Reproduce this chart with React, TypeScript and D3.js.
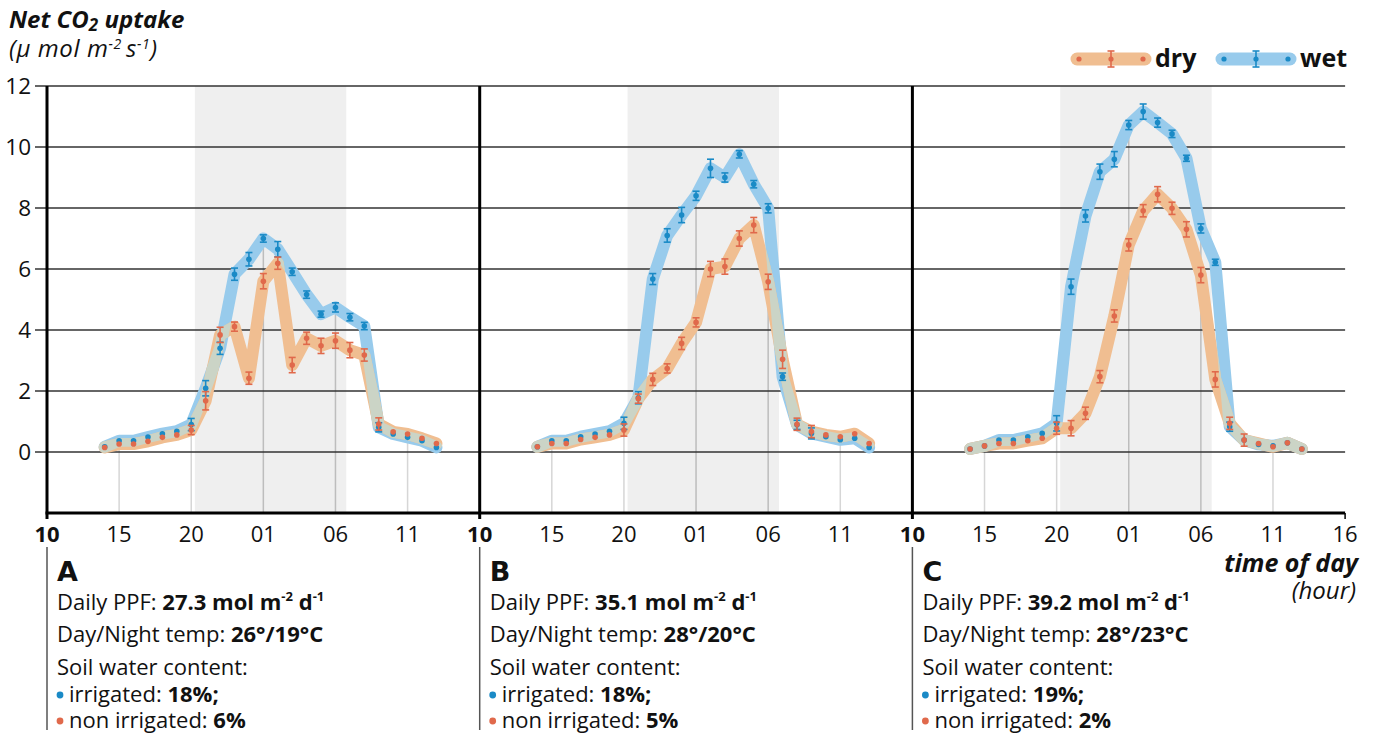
import * as d3 from "d3";

// hours after midnight of day 1 (14 = 14:00, 37 = 13:00 next day)
const hours = [14,15,16,17,18,19,20,21,22,23,24,25,26,27,28,29,30,31,32,33,34,35,36,37];

const wetA = [0.17,0.37,0.37,0.49,0.6,0.68,0.9,2.09,3.4,5.83,6.32,7.0,6.65,5.91,5.16,4.52,4.74,4.42,4.13,0.81,0.59,0.48,0.37,0.15];
const dryA = [0.15,0.26,0.26,0.35,0.48,0.56,0.72,1.68,3.84,4.11,2.42,5.6,6.19,2.85,3.73,3.48,3.65,3.34,3.18,0.92,0.66,0.59,0.45,0.28];
const wetB = [0.17,0.37,0.37,0.5,0.59,0.68,0.94,1.78,5.67,7.1,7.77,8.4,9.3,9.0,9.76,8.78,7.99,2.47,0.89,0.61,0.5,0.4,0.45,0.15];
const dryB = [0.17,0.28,0.28,0.41,0.48,0.56,0.72,1.75,2.38,2.74,3.56,4.25,6.0,6.08,7.0,7.44,5.58,3.04,0.91,0.67,0.56,0.5,0.6,0.28];
const wetC = [0.1,0.2,0.39,0.39,0.5,0.61,0.94,5.42,7.74,9.19,9.6,10.72,11.16,10.8,10.43,9.63,7.33,6.22,0.83,0.39,0.25,0.2,0.3,0.1];
const dryC = [0.1,0.2,0.28,0.28,0.37,0.45,0.78,0.78,1.27,2.47,4.46,6.79,7.91,8.45,7.99,7.3,5.8,2.38,0.94,0.39,0.28,0.17,0.3,0.1];

const errWetA = [0,0,0,0,0,0,0.2,0.25,0.2,0.2,0.22,0.12,0.25,0.12,0.12,0.1,0.15,0.12,0.12,0.15,0,0,0,0];
const errDryA = [0,0,0,0,0,0,0.15,0.3,0.25,0.15,0.2,0.25,0.2,0.25,0.2,0.25,0.25,0.25,0.2,0.2,0,0,0,0];
const errWetB = [0,0,0,0,0,0,0.2,0.2,0.18,0.22,0.25,0.15,0.3,0.15,0.12,0.12,0.15,0.12,0.15,0.18,0,0,0,0];
const errDryB = [0,0,0,0,0,0,0.2,0.15,0.2,0.15,0.2,0.15,0.25,0.25,0.25,0.25,0.25,0.3,0.2,0.2,0,0,0,0];
const errWetC = [0,0,0,0,0,0,0.25,0.25,0.2,0.25,0.25,0.15,0.25,0.15,0.12,0.1,0.15,0.1,0.15,0,0,0,0,0];
const errDryC = [0,0,0,0,0,0,0.2,0.25,0.2,0.2,0.2,0.2,0.2,0.25,0.2,0.25,0.25,0.25,0.2,0.2,0,0,0,0];

const xTicks = [10,15,20,25,30,35,40];
const xTickLabels = ["10","15","20","01","06","11","16"];
const yTicks = [0,2,4,6,8,10,12];
const night = [20.25, 30.75];

const letters = ["A","B","C"];
const ppf = ["27.3","35.1","39.2"];
const temps = ["26°/19°C","28°/20°C","28°/23°C"];
const irrigated = ["18%;","18%;","19%;"];
const nonIrrigated = ["6%","5%","2%"];

const panels = [
  { wet: wetA, dry: dryA, ew: errWetA, ed: errDryA },
  { wet: wetB, dry: dryB, ew: errWetB, ed: errDryB },
  { wet: wetC, dry: dryC, ew: errWetC, ed: errDryC },
];

const W = 1376, H = 735;
const left = 47, panelW = 432.7, top = 86, bottom = 513;
const BAND_WET = "#98CBEC", BAND_DRY = "#F0BE91", BAND_MIX = "#CBD4C6";
const DOT_WET = "#1A8AC6", DOT_DRY = "#E0694B";
const FONT = "'Open Sans', 'Noto Sans', sans-serif";
const INFO_SIZE = 22;

const y = d3.scaleLinear().domain([-2, 12]).range([bottom, top]);

function Panel({ i }: { i: number }) {
  const p = panels[i];
  const x0 = left + i * panelW;
  const x = d3.scaleLinear().domain([10, 40]).range([x0, x0 + panelW]);
  const mid = `mix${i}`;
  const line = d3.line<number>().x((_, k) => x(hours[k])).y(v => y(v));
  return (
    <g>
      <defs>
        <mask id={mid} maskUnits="userSpaceOnUse" x={0} y={0} width={W} height={H}>
          <path d={line(p.dry) || ""} fill="none" stroke="white" strokeWidth={12} strokeLinecap="round" strokeLinejoin="round" />
        </mask>
      </defs>
      <rect x={x(night[0])} y={top} width={x(night[1]) - x(night[0])} height={bottom - top} fill="#EFEFEF" />
      {/* drop lines at tick hours */}
      {xTicks.slice(1, 6).map(t => {
        const k = hours.indexOf(t);
        const v = Math.max(p.wet[k], p.dry[k]);
        const shaded = t > night[0] && t < night[1];
        return <line key={t} x1={x(t)} x2={x(t)} y1={bottom} y2={y(v)} stroke={shaded ? "#BDBDBD" : "#D6D6D6"} strokeWidth={1.5} />;
      })}
      {xTicks.map((t, k) => {
        if (k === 6 && i < 2) return null;
        return (
          <text key={t} x={x(t)} y={542} textAnchor="middle" fontSize={22} fontWeight={k === 0 ? 700 : 400} fontFamily={FONT} fill="#111">
            {xTickLabels[k]}
          </text>
        );
      })}
    </g>
  );
}

function Bands({ i }: { i: number }) {
  const p = panels[i];
  const x0 = left + i * panelW;
  const x = d3.scaleLinear().domain([10, 40]).range([x0, x0 + panelW]);
  const line = d3.line<number>().x((_, k) => x(hours[k])).y(v => y(v));
  const common = { fill: "none", strokeWidth: 12, strokeLinecap: "round" as const, strokeLinejoin: "round" as const };
  const errBars = (vals: number[], errs: number[], color: string) =>
    vals.map((v, k) => {
      const cx = x(hours[k]);
      const e = errs[k];
      return (
        <g key={k}>
          {e > 0 && (
            <g stroke={color} strokeWidth={1.6}>
              <line x1={cx} x2={cx} y1={y(v - e)} y2={y(v + e)} />
              <line x1={cx - 3.5} x2={cx + 3.5} y1={y(v - e)} y2={y(v - e)} />
              <line x1={cx - 3.5} x2={cx + 3.5} y1={y(v + e)} y2={y(v + e)} />
            </g>
          )}
          <circle cx={cx} cy={y(v)} r={2.8} fill={color} />
        </g>
      );
    });
  return (
    <g>
      <path d={line(p.wet) || ""} stroke={BAND_WET} {...common} />
      <path d={line(p.dry) || ""} stroke={BAND_DRY} {...common} />
      <path d={line(p.wet) || ""} stroke={BAND_MIX} mask={`url(#mix${i})`} {...common} />
      {errBars(p.wet, p.ew, DOT_WET)}
      {errBars(p.dry, p.ed, DOT_DRY)}
    </g>
  );
}

function InfoBlock({ i }: { i: number }) {
  const x0 = left + i * panelW;
  const tx = x0 + 10;
  return (
    <g fontFamily={FONT} fill="#111">
      <line x1={x0} x2={x0} y1={547} y2={730} stroke="#555" strokeWidth={1.5} />
      <text x={tx} y={581} fontSize={27} fontWeight={700} fontFamily="'DejaVu Sans', sans-serif">{letters[i]}</text>
      <text x={tx} y={610} fontSize={INFO_SIZE}>
        Daily PPF: <tspan fontWeight={700}>{ppf[i]} mol m</tspan>
        <tspan fontWeight={700} fontSize={13} dy={-9}>-2</tspan>
        <tspan fontWeight={700} dy={9}> d</tspan>
        <tspan fontWeight={700} fontSize={13} dy={-9}>-1</tspan>
      </text>
      <text x={tx} y={642} fontSize={INFO_SIZE}>
        Day/Night temp: <tspan fontWeight={700}>{temps[i]}</tspan>
      </text>
      <text x={tx} y={675} fontSize={INFO_SIZE}>Soil water content:</text>
      <circle cx={tx + 3} cy={695} r={3.4} fill={DOT_WET} />
      <text x={tx + 12} y={702} fontSize={INFO_SIZE}>
        irrigated: <tspan fontWeight={700}>{irrigated[i]}</tspan>
      </text>
      <circle cx={tx + 3} cy={721} r={3.4} fill={DOT_DRY} />
      <text x={tx + 12} y={728} fontSize={INFO_SIZE}>
        non irrigated: <tspan fontWeight={700}>{nonIrrigated[i]}</tspan>
      </text>
    </g>
  );
}

function LegendItem({ x1, label, band, dot }: { x1: number; label: string; band: string; dot: string }) {
  const cy = 59;
  const x2 = x1 + 68;
  const xm = (x1 + x2) / 2;
  return (
    <g>
      <line x1={x1} x2={x2} y1={cy} y2={cy} stroke={band} strokeWidth={13} strokeLinecap="round" />
      <circle cx={x1 + 2} cy={cy} r={2.6} fill={dot} />
      <circle cx={x2 - 2} cy={cy} r={2.6} fill={dot} />
      <circle cx={xm} cy={cy} r={2.6} fill={dot} />
      <g stroke={dot} strokeWidth={1.6}>
        <line x1={xm} x2={xm} y1={cy - 8} y2={cy + 8} />
        <line x1={xm - 3.5} x2={xm + 3.5} y1={cy - 8} y2={cy - 8} />
        <line x1={xm - 3.5} x2={xm + 3.5} y1={cy + 8} y2={cy + 8} />
      </g>
      <text x={x2 + 10} y={cy + 8} fontSize={25} fontWeight={700} fontFamily={FONT} fill="#111">{label}</text>
    </g>
  );
}

export default function App() {
  const right = left + 3 * panelW;
  return (
    <svg width={W} height={H} style={{ position: "absolute", left: 0, top: 0, background: "#fff" }}>
      {[0, 1, 2].map(i => <Panel key={i} i={i} />)}
      {yTicks.map(t => (
        <g key={t}>
          <line x1={35} x2={right} y1={y(t)} y2={y(t)} stroke="#333" strokeWidth={1.4} />
          <text x={31} y={y(t) + 8} textAnchor="end" fontSize={22.5} fontFamily={FONT} fill="#111">{t}</text>
        </g>
      ))}
      {[0, 1, 2].map(i => <Bands key={i} i={i} />)}
      {[0, 1, 2].map(i => (
        <line key={i} x1={left + i * panelW} x2={left + i * panelW} y1={top} y2={bottom + 6} stroke="#000" strokeWidth={3} />
      ))}
      <line x1={left - 1.5} x2={right} y1={bottom} y2={bottom} stroke="#000" strokeWidth={3} />
      <line x1={right} x2={right} y1={bottom} y2={bottom + 6} stroke="#000" strokeWidth={1.5} />
      {[0, 1, 2].map(i => <InfoBlock key={i} i={i} />)}

      <text x={9} y={28} fontSize={24} fontWeight={700} fontStyle="italic" fontFamily={FONT} fill="#111">
        Net CO<tspan fontSize={17} dy={3}>2</tspan><tspan dy={-3}> uptake</tspan>
      </text>
      <text x={9} y={57} fontSize={24} fontStyle="italic" fontFamily={FONT} fill="#111" letterSpacing={0.6}>
        (μ mol m<tspan fontSize={14} dy={-8}>-2 </tspan><tspan dy={8}>s</tspan><tspan fontSize={14} dy={-8}>-1</tspan><tspan dy={8}>)</tspan>
      </text>
      <text x={1358} y={572} textAnchor="end" fontSize={25} fontWeight={700} fontStyle="italic" fontFamily={FONT} fill="#111">time of day</text>
      <text x={1356} y={599} textAnchor="end" fontSize={24} fontStyle="italic" fontFamily={FONT} fill="#111">(hour)</text>

      <LegendItem x1={1077} label="dry" band={BAND_DRY} dot={DOT_DRY} />
      <LegendItem x1={1222} label="wet" band={BAND_WET} dot={DOT_WET} />
    </svg>
  );
}
